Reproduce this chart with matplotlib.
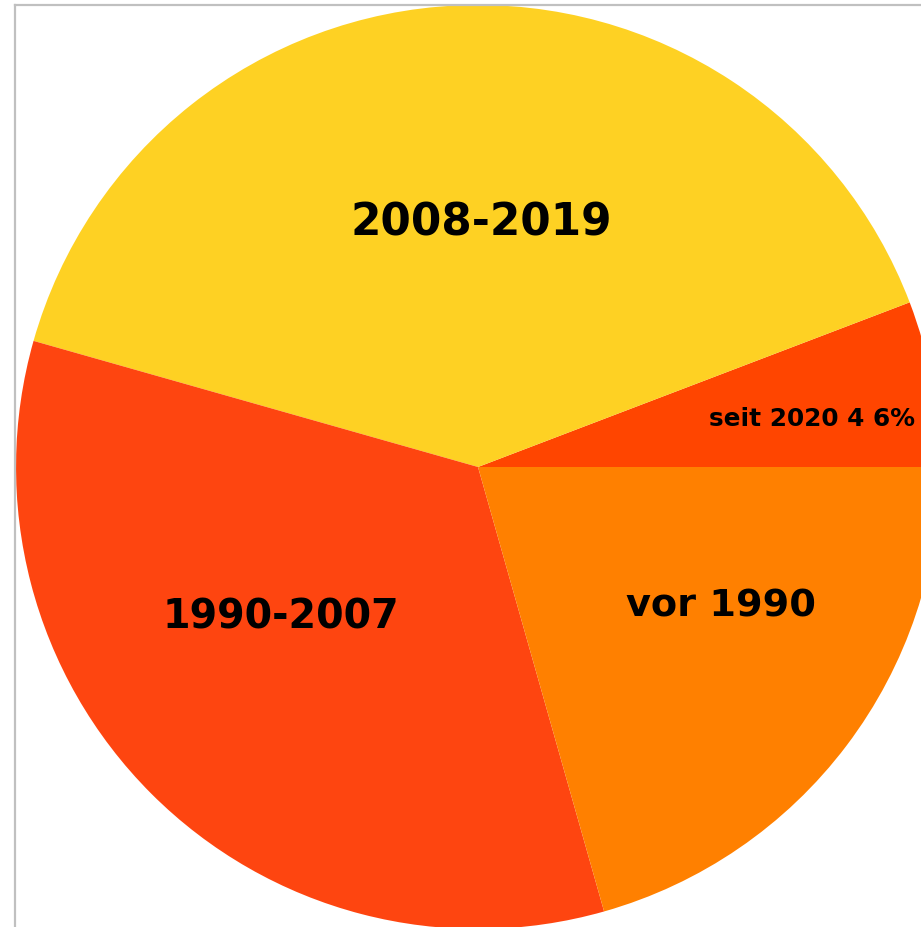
import matplotlib
matplotlib.use("Agg")
from matplotlib import pyplot as plt
from matplotlib.lines import Line2D

# Anteile (in %), gegen den Uhrzeigersinn ab 3 Uhr
labels = ["seit 2020 4 6%", "2008-2019", "1990-2007", "vor 1990"]
values = [5.8, 39.8, 33.8, 20.6]
colors = ["#FF4500", "#FED123", "#FE4510", "#FF8000"]

# label positions (in pie radius units) and font sizes
label_pos = [(0.723, 0.104), (0.007, 0.528), (-0.426, -0.325), (0.525, -0.303)]
label_size = [17.8, 31.5, 28.5, 27.5]

W, H = 921, 927
cx, cy, r = 478, 467, 462  # pie centre / radius in pixels

fig = plt.figure(figsize=(W / 100, H / 100), dpi=100)
fig.patch.set_facecolor("white")

# grey frame of the plot area (runs off the picture right/bottom)
fig.add_artist(Line2D([15 / W, 15 / W], [0, 1 - 5 / H], color="#c0c0c0", lw=1.6))
fig.add_artist(Line2D([15 / W, 1], [1 - 5 / H, 1 - 5 / H], color="#c0c0c0", lw=1.6))

ax = fig.add_axes([0, 0, 1, 1])
ax.axis("off")
ax.pie(values, colors=colors, startangle=0, counterclock=True, radius=1,
       wedgeprops=dict(linewidth=0))
ax.set_xlim(-cx / r, (W - cx) / r)
ax.set_ylim(-(H - cy) / r, cy / r)
ax.set_aspect("auto")

for lab, (x, y), fs in zip(labels, label_pos, label_size):
    ax.text(x, y, lab, ha="center", va="center", fontsize=fs,
            fontweight="bold", color="black")

fig.savefig("out.png", dpi=100)
